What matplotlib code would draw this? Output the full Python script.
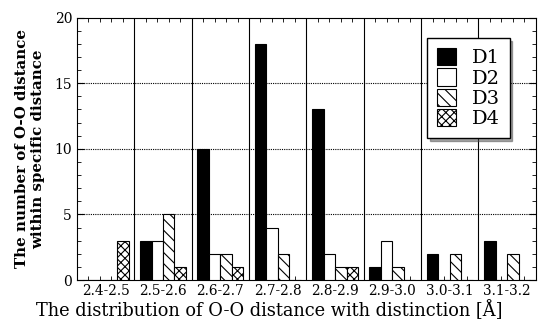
import matplotlib
matplotlib.use("Agg")
import matplotlib.pyplot as plt
import numpy as np

categories = ["2.4-2.5", "2.5-2.6", "2.6-2.7", "2.7-2.8", "2.8-2.9", "2.9-3.0", "3.0-3.1", "3.1-3.2"]
D1 = [0, 3, 10, 18, 13, 1, 2, 3]
D2 = [0, 3, 2, 4, 2, 3, 0, 0]
D3 = [0, 5, 2, 2, 1, 1, 2, 2]
D4 = [3, 1, 1, 0, 1, 0, 0, 0]
series_names = ["D1", "D2", "D3", "D4"]

plt.rcParams['font.family'] = ['DejaVu Serif']
plt.rcParams['hatch.linewidth'] = 0.8

fig = plt.figure(figsize=(5.38, 3.25), dpi=100)
ax = fig.add_axes([0.143, 0.138, 0.853, 0.808])

x = np.arange(len(categories))
w = 0.2
styles = [dict(color='black', edgecolor='black'),
          dict(color='white', edgecolor='black'),
          dict(color='white', edgecolor='black', hatch='\\\\\\'),
          dict(color='white', edgecolor='black', hatch='xxxx')]
for i, (vals, name, st) in enumerate(zip([D1, D2, D3, D4], series_names, styles)):
    ax.bar(x + (i - 1.5) * w, vals, width=w, linewidth=0.8, label=name, zorder=3, **st)

ax.set_xlim(-0.5, len(categories) - 0.5)
ax.set_ylim(0, 20)
for b in np.arange(0.5, len(categories) - 0.5, 1):
    ax.axvline(b, color='black', lw=0.8, zorder=2)
for yv in [5, 10, 15]:
    ax.axhline(yv, color='black', lw=0.8, ls=(0, (1, 1)), zorder=1)

ax.set_xticks(x)
ax.set_xticklabels(categories, fontsize=9.8)
ax.set_xticks(np.concatenate([x + (i - 1.5) * w for i in range(4)]), minor=True)
ax.set_yticks([0, 5, 10, 15, 20])
ax.set_yticks(np.arange(0, 21, 1), minor=True)
ax.tick_params(axis='x', which='major', length=0, pad=3)
ax.tick_params(axis='x', which='minor', direction='in', length=3, top=True, bottom=True)
ax.tick_params(axis='y', which='both', direction='in', right=True, labelsize=10)
ax.tick_params(axis='y', which='major', length=5)
ax.tick_params(axis='y', which='minor', length=3)

fig.text(0.5, 0.027, "The distribution of O-O distance with distinction [Å]", fontsize=12.8,
         ha='center', va='baseline')
ax.set_ylabel("The number of O-O distance\nwithin specific distance", fontsize=10.8,
              fontweight='semibold', labelpad=7)

leg = ax.legend(loc='upper right', bbox_to_anchor=(0.943, 0.921), fontsize=14, shadow=True,
                fancybox=False, edgecolor='black', framealpha=1, handlelength=1.0,
                handleheight=1.0, labelspacing=0.05, borderpad=0.5, handletextpad=0.8,
                borderaxespad=0)
leg.get_frame().set_linewidth(1.0)
leg.set_zorder(5)

fig.savefig("out.png", dpi=100)
